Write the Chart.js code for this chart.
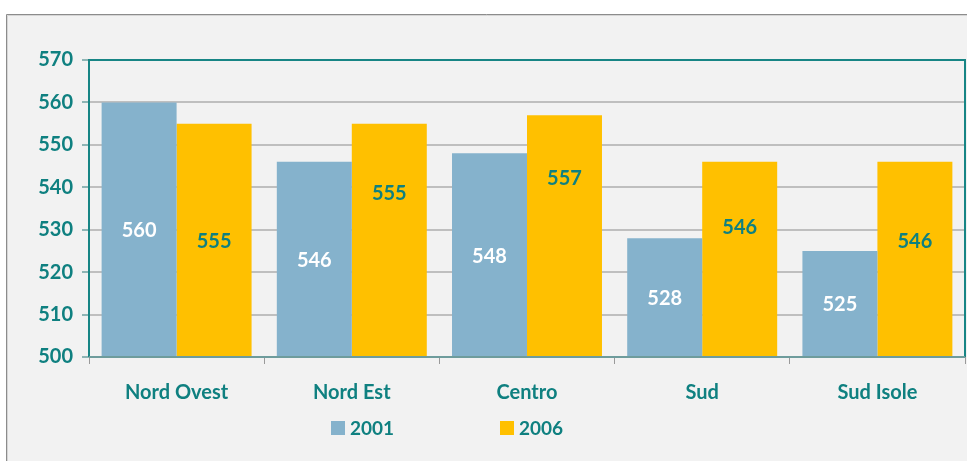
<!DOCTYPE html>
<html>
<head>
<meta charset="utf-8">
<script src="https://cdn.jsdelivr.net/npm/chart.js@4/dist/chart.umd.min.js"></script>
<style>
html,body{margin:0;padding:0;background:#fff;}
canvas{display:block;}
</style>
</head>
<body>
<canvas id="c" width="967" height="461"></canvas>
<script>
const categories = ["Nord Ovest", "Nord Est", "Centro", "Sud", "Sud Isole"];
const values2001 = [560, 546, 548, 528, 525];
const values2006 = [555, 555, 557, 546, 546];
const seriesNames = ["2001", "2006"];

const TEAL = '#0F8080';
const FONT = 'Lato, sans-serif';
const COL2001 = '#85B2CC';
const COL2006 = '#FFC000';
// label nudges (pixels, style only) relative to the bar middle
const labelNudge = [[0, 0, 0, 0, 0], [0, -48, -59, -33, -19]];

const framePlugin = {
  id: 'frame',
  beforeDraw(chart) {
    const ctx = chart.ctx;
    ctx.save();
    ctx.fillStyle = '#ffffff';
    ctx.fillRect(0, 0, chart.width, chart.height);
    ctx.fillStyle = '#F2F2F2';
    ctx.fillRect(7, 15, chart.width - 7, chart.height - 15);
    ctx.strokeStyle = '#8C8C8C';
    ctx.lineWidth = 1;
    ctx.beginPath();
    ctx.moveTo(6.5, chart.height);
    ctx.lineTo(6.5, 14.5);
    ctx.lineTo(chart.width, 14.5);
    ctx.stroke();
    ctx.strokeStyle = '#D6D6D6';
    ctx.beginPath();
    ctx.moveTo(7.5, chart.height);
    ctx.lineTo(7.5, 15.5);
    ctx.lineTo(chart.width, 15.5);
    ctx.stroke();
    ctx.restore();
  },
  afterDraw(chart) {
    const ctx = chart.ctx;
    const a = chart.chartArea;
    const ys = chart.scales.y;
    ctx.save();
    // plot border
    ctx.strokeStyle = '#178585';
    ctx.lineWidth = 2;
    ctx.beginPath();
    ctx.moveTo(a.left, a.bottom);
    ctx.lineTo(a.left, a.top);
    ctx.lineTo(a.right, a.top);
    ctx.lineTo(a.right, a.bottom);
    ctx.stroke();
    ctx.strokeStyle = '#6E9C9C';
    ctx.beginPath();
    ctx.moveTo(a.left, a.bottom);
    ctx.lineTo(a.right, a.bottom);
    ctx.stroke();
    // data labels
    ctx.font = 'bold 20px ' + FONT;
    ctx.textAlign = 'center';
    ctx.textBaseline = 'middle';
    chart.data.datasets.forEach((ds, di) => {
      const meta = chart.getDatasetMeta(di);
      meta.data.forEach((bar, i) => {
        const v = ds.data[i];
        const top = ys.getPixelForValue(v);
        const base = ys.getPixelForValue(ys.min);
        ctx.fillStyle = di === 0 ? '#ffffff' : TEAL;
        ctx.fillText(String(v), bar.x, (top + base) / 2 + 1 + labelNudge[di][i]);
      });
    });
    // legend
    const items = [
      { label: seriesNames[0], color: COL2001, x: 331 },
      { label: seriesNames[1], color: COL2006, x: 500 }
    ];
    ctx.textAlign = 'left';
    ctx.font = 'bold 19px ' + FONT;
    items.forEach(it => {
      ctx.fillStyle = it.color;
      ctx.fillRect(it.x, 421, 14, 14);
      ctx.fillStyle = TEAL;
      ctx.fillText(it.label, it.x + 19, 429);
    });
    ctx.restore();
  }
};

new Chart(document.getElementById('c'), {
  type: 'bar',
  data: {
    labels: categories,
    datasets: [
      { label: seriesNames[0], data: values2001, backgroundColor: COL2001, borderWidth: 0 },
      { label: seriesNames[1], data: values2006, backgroundColor: COL2006, borderWidth: 0 }
    ]
  },
  options: {
    responsive: false,
    animation: false,
    devicePixelRatio: 1,
    categoryPercentage: 0.856,
    barPercentage: 1.0,
    layout: { padding: { top: 60, right: 2, bottom: 0, left: 0 } },
    plugins: {
      legend: { display: false },
      tooltip: { enabled: false }
    },
    scales: {
      x: {
        offset: true,
        grid: {
          offset: true,
          drawOnChartArea: false,
          drawTicks: true,
          tickLength: 7,
          color: '#9A9A9A'
        },
        border: { display: false },
        ticks: {
          color: TEAL,
          font: { family: FONT, size: 20, weight: 'bold' },
          padding: 17
        },
        afterFit(scale) { scale.height = 104; }
      },
      y: {
        min: 500,
        max: 570,
        ticks: {
          stepSize: 10,
          color: TEAL,
          font: { family: FONT, size: 20, weight: 'bold' },
          padding: 9
        },
        grid: {
          color: '#BFBFBF',
          lineWidth: 2,
          tickLength: 7,
          tickColor: '#8FB5B5',
          tickWidth: 2
        },
        border: { display: false },
        afterFit(scale) { scale.width = 89; }
      }
    }
  },
  plugins: [framePlugin]
});
</script>
</body>
</html>
